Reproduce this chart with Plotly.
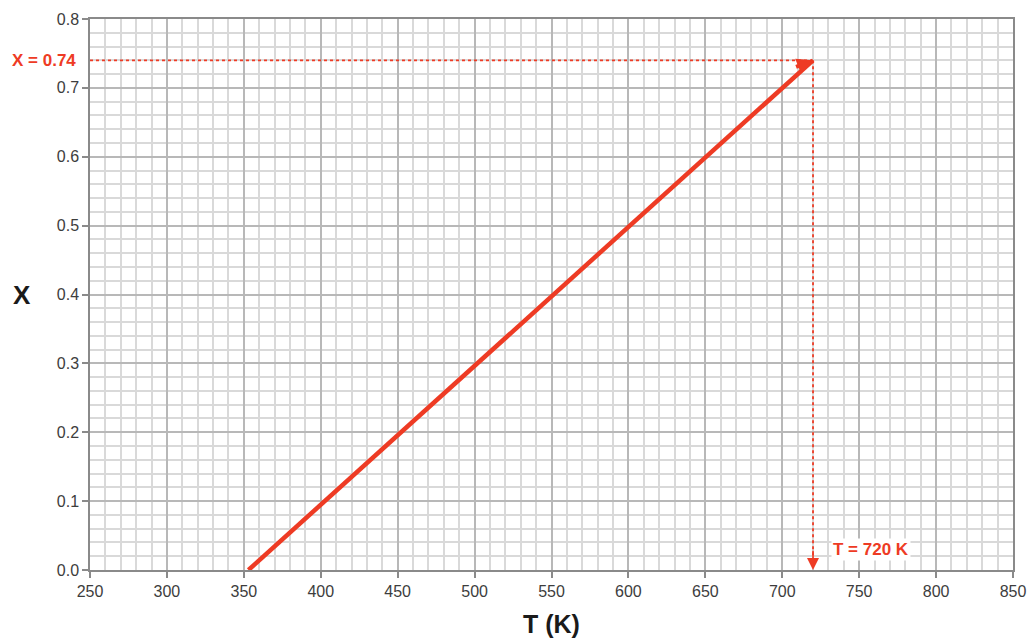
import plotly.graph_objects as go

# Data
T_line = [353, 720]          # K
X_line = [0.0, 0.74]
T_target = 720
X_target = 0.74
x_ticks = [250, 300, 350, 400, 450, 500, 550, 600, 650, 700, 750, 800, 850]
y_ticks = [0.0, 0.1, 0.2, 0.3, 0.4, 0.5, 0.6, 0.7, 0.8]

RED = "#ee3b24"
FONT = "Liberation Sans, Arial, sans-serif"

fig = go.Figure()
fig.add_trace(go.Scatter(x=T_line, y=X_line, mode="lines",
                         line=dict(color=RED, width=4.5), hoverinfo="skip",
                         showlegend=False))

# dotted guide lines
fig.add_shape(type="line", x0=x_ticks[0], x1=T_target, y0=X_target, y1=X_target,
              line=dict(color=RED, width=1.8, dash="dot"), layer="above")
fig.add_shape(type="line", x0=T_target, x1=T_target, y0=X_target, y1=y_ticks[0] + 0.012,
              line=dict(color=RED, width=1.8, dash="dot"), layer="above")

# arrowhead on main line
fig.add_annotation(x=T_line[1], y=X_line[1], ax=T_line[1] - 12, ay=X_line[1] - 0.0105,
                   xref="x", yref="y", axref="x", ayref="y", showarrow=True,
                   arrowhead=2, arrowsize=0.8, arrowwidth=4, arrowcolor=RED, text="")
# arrowhead on vertical dotted line
fig.add_annotation(x=T_target, y=y_ticks[0], ax=T_target, ay=0.03,
                   xref="x", yref="y", axref="x", ayref="y", showarrow=True,
                   arrowhead=2, arrowsize=1.5, arrowwidth=1.6, arrowcolor=RED, text="")

fig.add_annotation(x=0, y=X_target, xref="paper", yref="y", xanchor="right",
                   xshift=-12, text="<b>X = 0.74</b>", showarrow=False,
                   font=dict(color=RED, size=17, family=FONT))
fig.add_annotation(x=T_target + 12, y=0.03, xref="x", yref="y", xanchor="left",
                   text="<b>T = 720 K</b>", showarrow=False, bgcolor="white",
                   font=dict(color=RED, size=17, family=FONT))

# axis titles
fig.add_annotation(x=0.5, y=0, xref="paper", yref="paper", yanchor="middle",
                   yshift=-54, text="<b>T (K)</b>", showarrow=False,
                   font=dict(size=25, color="#1a1a1a", family=FONT))
fig.add_annotation(x=0, y=0.5, xref="paper", yref="paper", xanchor="center",
                   xshift=-68, text="<b>X</b>", showarrow=False,
                   font=dict(size=26, color="#1a1a1a", family=FONT))

axis_common = dict(showline=True, linecolor="#8a8a8a", linewidth=1.5, mirror=True,
                   ticks="outside", ticklen=6, tickcolor="#8a8a8a", tickwidth=1.5,
                   showgrid=True, gridcolor="#b8b8b8", gridwidth=1.8,
                   zeroline=False, automargin=False,
                   tickfont=dict(size=16, color="#3d3d3d", family=FONT))

fig.update_xaxes(range=[x_ticks[0], x_ticks[-1]], tickvals=x_ticks,
                 minor=dict(dtick=10, showgrid=True, gridcolor="#d9d9d9", gridwidth=1.8),
                 **axis_common)
fig.update_yaxes(range=[y_ticks[0], y_ticks[-1]], tickvals=y_ticks, tickformat=".1f",
                 minor=dict(dtick=0.02, showgrid=True, gridcolor="#d9d9d9", gridwidth=1.8),
                 **axis_common)

fig.update_layout(width=1032, height=641, plot_bgcolor="white", paper_bgcolor="white",
                  margin=dict(l=90, r=19, t=19, b=71), font=dict(family=FONT))

# remove the default 8px page margin so the figure fills the window exactly
fig.write_html("out.html", config={"displayModeBar": False},
               post_script="document.body.style.margin='0';document.body.style.overflow='hidden';")
